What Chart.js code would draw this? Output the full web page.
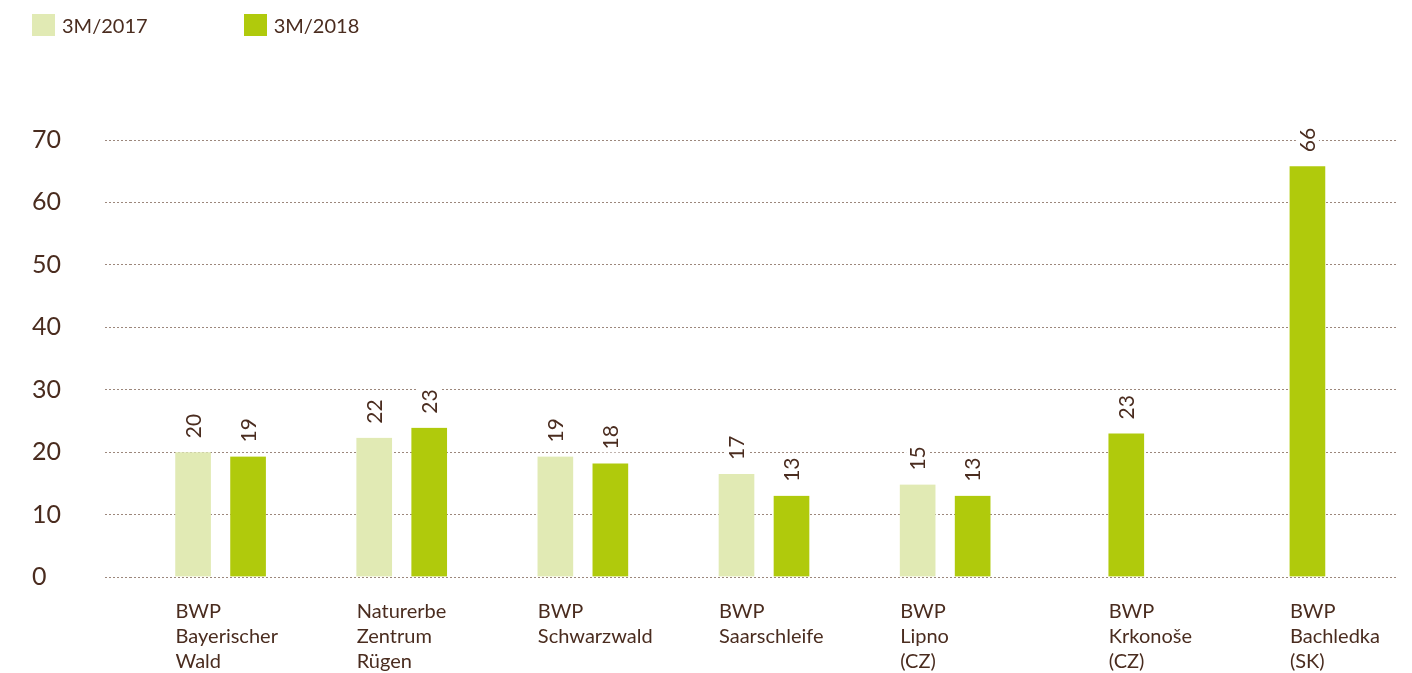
<!DOCTYPE html>
<html>
<head>
<meta charset="utf-8">
<script src="https://cdn.jsdelivr.net/npm/chart.js@4.4.1/dist/chart.umd.min.js"></script>
<style>
    html, body { margin: 0; padding: 0; background: #ffffff; }
    #wrap { position: relative; width: 1412px; height: 673px; }
    #legend { position: absolute; left: 32px; top: 14px; display: flex; font-family: Lato, sans-serif; font-size: 20px; color: #4a2c1f; }
    .item { display: flex; align-items: center; height: 22px; }
    .item + .item { margin-left: 96px; }
    .swatch { width: 23px; height: 22px; margin-right: 7px; }
</style>
</head>
<body>
<div id="wrap">
    <div id="legend"></div>
    <canvas id="chart" width="1412" height="673"></canvas>
</div>
<script>
const categories = [
    ['BWP', 'Bayerischer', 'Wald'],
    ['Naturerbe', 'Zentrum', 'Rügen'],
    ['BWP', 'Schwarzwald'],
    ['BWP', 'Saarschleife'],
    ['BWP', 'Lipno', '(CZ)'],
    ['BWP', 'Krkonoše', '(CZ)'],
    ['BWP', 'Bachledka', '(SK)']
];
const seriesNames = ['3M/2017', '3M/2018'];
const seriesColors = ['#e1eab4', '#b0ca0c'];
// bar heights, printed labels as shown above the bars
const values2017 = [20.0, 22.3, 19.3, 16.5, 14.8, null, null];
const values2018 = [19.3, 23.9, 18.2, 13.0, 13.0, 23.0, 65.8];
const printed2017 = ['20', '22', '19', '17', '15', '', ''];
const printed2018 = ['19', '23', '18', '13', '13', '23', '66'];
const yMin = 0, yMax = 70, yStep = 10;

const textColor = '#4a2c1f';
const gridColor = '#9c877c';
const fontFamily = 'Lato, sans-serif';
const barSlot = 55;
const barGap = 10; // transparent border on each side of a bar

// HTML legend
const legendEl = document.getElementById('legend');
seriesNames.forEach((name, i) => {
    const item = document.createElement('div');
    item.className = 'item';
    const sw = document.createElement('span');
    sw.className = 'swatch';
    sw.style.background = seriesColors[i];
    const label = document.createElement('span');
    label.textContent = name;
    item.appendChild(sw);
    item.appendChild(label);
    legendEl.appendChild(item);
});

// value labels written upwards above each bar, on a white box
const valueLabels = {
    id: 'valueLabels',
    afterDatasetsDraw(chart) {
        const ctx = chart.ctx;
        const printed = [printed2017, printed2018];
        ctx.save();
        ctx.font = '21px ' + fontFamily;
        chart.data.datasets.forEach((ds, di) => {
            const meta = chart.getDatasetMeta(di);
            meta.data.forEach((bar, i) => {
                if (ds.data[i] === null) return;
                const txt = printed[di][i];
                const w = ctx.measureText(txt).width;
                ctx.save();
                ctx.translate(bar.x, bar.y - 14);
                ctx.rotate(-Math.PI / 2);
                ctx.fillStyle = '#ffffff';
                ctx.fillRect(-3, -11.5, w + 6, 23);
                ctx.fillStyle = textColor;
                ctx.textAlign = 'left';
                ctx.textBaseline = 'alphabetic';
                ctx.fillText(txt, 0, 7.5);
                ctx.restore();
            });
        });
        ctx.restore();
    }
};

// category labels, left aligned with the first bar of each group
const categoryLabels = {
    id: 'categoryLabels',
    afterDraw(chart) {
        const ctx = chart.ctx;
        const area = chart.chartArea;
        ctx.save();
        ctx.font = '20px ' + fontFamily;
        ctx.fillStyle = textColor;
        ctx.textAlign = 'left';
        ctx.textBaseline = 'alphabetic';
        chart.data.labels.forEach((lines, i) => {
            let left = null;
            chart.data.datasets.forEach((ds, di) => {
                if (left !== null || ds.data[i] === null) return;
                const bar = chart.getDatasetMeta(di).data[i];
                left = bar.x - bar.width / 2 + barGap;
            });
            lines.forEach((line, li) => {
                ctx.fillText(line, left, area.bottom + 41 + li * 25);
            });
        });
        ctx.restore();
    }
};

function makeDataset(i, data) {
    return {
        label: seriesNames[i],
        data: data,
        backgroundColor: seriesColors[i],
        borderColor: 'rgba(0,0,0,0)',
        borderWidth: { left: barGap, right: barGap, top: 0, bottom: 0 },
        borderSkipped: false,
        barThickness: barSlot,
        skipNull: true
    };
}

new Chart(document.getElementById('chart'), {
    type: 'bar',
    data: {
        labels: categories,
        datasets: [makeDataset(0, values2017), makeDataset(1, values2018)]
    },
    options: {
        responsive: false,
        animation: false,
        devicePixelRatio: 1,
        layout: { padding: { left: 32, right: 14, top: 140, bottom: 96 } },
        plugins: {
            legend: { display: false },
            tooltip: { enabled: false }
        },
        scales: {
            x: {
                display: false
            },
            y: {
                min: yMin,
                max: yMax,
                afterFit(scale) { scale.width = 98; },
                ticks: {
                    stepSize: yStep,
                    crossAlign: 'far',
                    color: textColor,
                    font: { family: fontFamily, size: 25 }
                },
                border: { display: false, dash: [2, 2] },
                grid: {
                    color: gridColor,
                    lineWidth: 1,
                    drawTicks: true,
                    tickLength: 25,
                    tickColor: gridColor,
                    tickBorderDash: [2, 2]
                }
            }
        }
    },
    plugins: [valueLabels, categoryLabels]
});
</script>
</body>
</html>
